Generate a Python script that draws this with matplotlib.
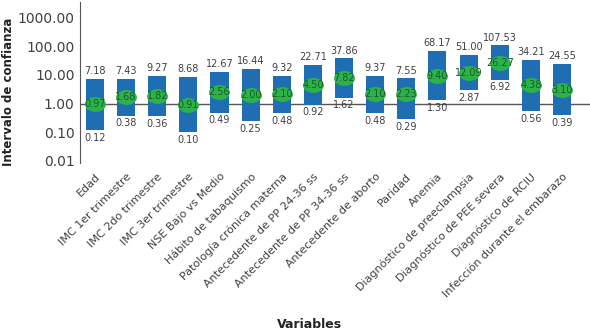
import matplotlib
matplotlib.use("Agg")
import matplotlib.pyplot as plt
import numpy as np
from matplotlib.path import Path
from matplotlib.transforms import Affine2D
from matplotlib.ticker import FixedLocator, FuncFormatter

variables = [
    "Edad", "IMC 1er trimestre", "IMC 2do trimestre", "IMC 3er trimestre",
    "NSE Bajo vs Medio", "Hábito de tabaquismo", "Patología crónica materna",
    "Antecedente de PP 24-36 ss", "Antecedente de PP 34-36 ss",
    "Antecedente de aborto", "Paridad", "Anemia", "Diagnóstico de preeclampsia",
    "Diagnóstico de PEE severa", "Diagnóstico de RCIU",
    "Infección durante el embarazo",
]
lower = [0.12, 0.38, 0.36, 0.10, 0.49, 0.25, 0.48, 0.92, 1.62, 0.48, 0.29,
         1.30, 2.87, 6.92, 0.56, 0.39]
odds = [0.97, 1.68, 1.82, 0.91, 2.56, 2.00, 2.10, 4.50, 7.82, 2.10, 2.23,
        9.40, 12.09, 26.27, 4.38, 3.10]
upper = [7.18, 7.43, 9.27, 8.68, 12.67, 16.44, 9.32, 22.71, 37.86, 9.37, 7.55,
         68.17, 51.00, 107.53, 34.21, 24.55]
yticks = [0.01, 0.1, 1, 10, 100, 1000]

BLUE = "#1f6eb4"
GREEN = "#2bb34a"
TEXT = "#404040"

fig = plt.figure(figsize=(5.9, 3.36), dpi=100)
ax = fig.add_axes([80 / 590, 1 - 163 / 336, 510 / 590, 161 / 336])
ax.set_yscale("log")

x = np.arange(len(variables))
lo = np.array(lower)
hi = np.array(upper)
ax.axhline(1, color="#555555", lw=1, zorder=1)
ax.bar(x, hi - lo, bottom=lo, width=0.58, color=BLUE, zorder=2)

# green ellipse marking the point estimate
ell = Path.unit_circle().transformed(Affine2D().scale(1.4, 1.0))
ax.plot(x, odds, linestyle="none", marker=ell, markersize=15,
        color=GREEN, markeredgewidth=0, zorder=3)

for xi, l, o, u in zip(x, lower, odds, upper):
    ax.annotate(f"{u:.2f}", (xi, u), xytext=(0, 2), textcoords="offset points",
                ha="center", va="bottom", fontsize=7, color=TEXT)
    ax.annotate(f"{l:.2f}", (xi, l), xytext=(0, -2), textcoords="offset points",
                ha="center", va="top", fontsize=7, color=TEXT)
    ax.annotate(f"{o:.2f}", (xi, o), ha="center", va="center",
                fontsize=7, color="#1d5a22", zorder=4)

ax.set_xlim(-0.48, len(variables) - 1 + 0.9)
ax.set_ylim(0.0085, 3500)
ax.yaxis.set_major_locator(FixedLocator(yticks))
ax.yaxis.set_minor_locator(FixedLocator([]))
ax.yaxis.set_major_formatter(FuncFormatter(lambda v, p: f"{v:.2f}"))
ax.tick_params(axis="y", length=0, labelsize=10, colors=TEXT, pad=4)

ax.set_xticks(x)
ax.set_xticklabels(variables, rotation=45, ha="right", rotation_mode="anchor",
                   fontsize=8, color=TEXT)
ax.tick_params(axis="x", length=0, pad=6)

for s in ("top", "right", "bottom"):
    ax.spines[s].set_visible(False)
ax.spines["left"].set_color("#555555")

ax.set_ylabel("Intervalo de confianza", fontsize=8.5, fontweight="bold",
              color="#222222")
ax.yaxis.set_label_coords(-0.128, 0.44)
ax.set_xlabel("Variables", fontsize=9, fontweight="bold", color="#222222")
ax.xaxis.set_label_coords(0.45, -0.96)

fig.savefig("out.png", dpi=100)
